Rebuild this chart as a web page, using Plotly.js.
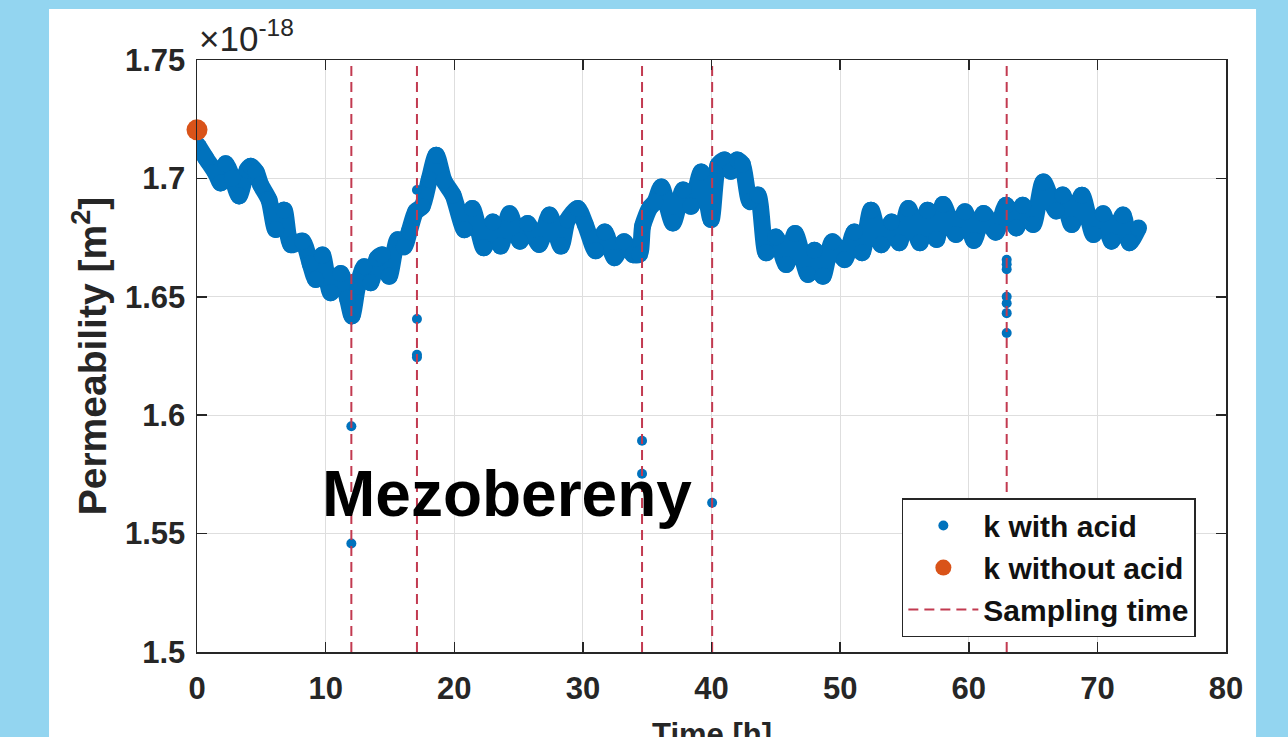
<!DOCTYPE html>
<html>
<head>
<meta charset="utf-8">
<script src="https://cdn.plot.ly/plotly-3.0.1.min.js"></script>
<style>
  html, body { margin: 0; padding: 0; background: #93d5f0; }
  #chart { width: 1288px; height: 737px; }
</style>
</head>
<body>
<div id="chart"></div>
<script>
// ---- Data (permeability in units of 1e-18 m^2, time in hours) ----
const timeH = [0.05, 0.67, 1.45, 1.84, 2.23, 2.75, 3.27, 3.9, 4.18, 4.6, 4.95, 5.6, 6.12, 6.77, 7.3, 8.2, 8.8,
  9.23, 9.75, 10.4, 11.18, 11.7, 12.05, 12.48, 13.0, 13.5, 14.0, 14.4, 14.94, 15.6, 16.1, 16.5, 17.0, 17.5,
  18.05, 18.6, 19.2, 19.9, 20.8, 21.4, 22.3, 23.0, 23.6, 24.3, 25.1, 25.7, 26.6, 27.4, 28.3, 28.8, 29.6,
  30.2, 31.0, 31.7, 32.45, 33.2, 33.9, 34.4, 34.65, 35.2, 35.6, 36.1, 37.0, 37.8, 38.4, 39.2, 39.97,
  40.5, 41.0, 41.5, 42.0, 42.4, 43.0, 43.6, 44.25, 45.0, 45.8, 46.5, 47.5, 48.0, 48.66, 49.4, 50.35,
  51.1, 51.7, 52.4, 53.2, 54.0, 54.6, 55.3, 56.2, 56.8, 57.5, 58.0, 59.0, 59.7, 60.4, 61.15, 62.1, 62.9,
  63.7, 64.2, 65.0, 65.8, 66.8, 67.3, 68.0, 68.8, 69.7, 70.45, 71.1, 72.0, 72.5, 73.2];
const kWithAcid = [1.7141, 1.7087, 1.7023, 1.6981, 1.7062, 1.7001, 1.6926, 1.7036, 1.7051, 1.7027, 1.6973, 1.6909, 1.6784, 1.6866, 1.6720, 1.6735, 1.6640,
  1.6573, 1.6676, 1.6517, 1.6598, 1.6494, 1.6420, 1.6543, 1.6627, 1.6559, 1.6662, 1.6677, 1.6587, 1.6741, 1.6711, 1.6776, 1.6860, 1.6881,
  1.6994, 1.7098, 1.6990, 1.6930, 1.6783, 1.6873, 1.6707, 1.6816, 1.6714, 1.6851, 1.6735, 1.6810, 1.6721, 1.6845, 1.6714, 1.6824, 1.6873,
  1.6804, 1.6694, 1.6774, 1.6665, 1.6732, 1.6678, 1.6680, 1.6800, 1.6876, 1.6900, 1.6964, 1.6812, 1.6951, 1.6882, 1.7027, 1.6826,
  1.7055, 1.7078, 1.7030, 1.7078, 1.7060, 1.6902, 1.6930, 1.6686, 1.6753, 1.6636, 1.6767, 1.6594, 1.6697, 1.6587, 1.6732, 1.6657,
  1.6774, 1.6686, 1.6866, 1.6720, 1.6816, 1.6728, 1.6873, 1.6728, 1.6866, 1.6742, 1.6890, 1.6763, 1.6859, 1.6738, 1.6852, 1.6773, 1.6887,
  1.6791, 1.6887, 1.6805, 1.6985, 1.6862, 1.6930, 1.6805, 1.6929, 1.6763, 1.6851, 1.6735, 1.6845, 1.6728, 1.6791];

// isolated readings taken at the sampling moments
const sampleReadTimeH = [12.0, 12.0, 12.0, 17.1, 17.1, 17.1, 17.1, 34.6, 34.6, 40.05, 40.05, 40.05,
  62.95, 62.95, 62.95, 62.95, 62.95, 62.95, 62.95];
const sampleReadK = [1.6403, 1.5953, 1.5458, 1.6951, 1.6406, 1.6255, 1.6245, 1.5892, 1.5753, 1.6850, 1.6820, 1.5630,
  1.6656, 1.6637, 1.6616, 1.6500, 1.6473, 1.6431, 1.6347];

const noAcidTimeH = [0];
const kWithoutAcid = [1.7205];

const samplingTimesH = [12.0, 17.1, 34.6, 40.05, 62.95];

const xTickVals = [0, 10, 20, 30, 40, 50, 60, 70, 80];
const yTickVals = [1.5, 1.55, 1.6, 1.65, 1.7, 1.75];
const yTickText = ['1.5', '1.55', '1.6', '1.65', '1.7', '1.75'];

const FONT = 'Liberation Sans, Arial, Helvetica, sans-serif';
const AX = '#262626';
const BLUE = '#0072BD';
const ORANGE = '#D95319';
const RED = '#c23a50';

const yMin = yTickVals[0], yMax = yTickVals[yTickVals.length - 1];
const sampX = [], sampY = [];
samplingTimesH.forEach(t => { sampX.push(t, t, null); sampY.push(yMin, yMax, null); });

const traces = [
  { x: timeH, y: kWithAcid, type: 'scatter', mode: 'lines+markers',
    line: { color: BLUE, width: 17, shape: 'spline', smoothing: 0.7 },
    marker: { color: BLUE, size: 17 }, showlegend: false, legendgroup: 'acid', hoverinfo: 'x+y' },
  { x: sampleReadTimeH, y: sampleReadK, type: 'scatter', mode: 'markers', name: 'k with acid',
    legendgroup: 'acid', marker: { color: BLUE, size: 10 } },
  { x: noAcidTimeH, y: kWithoutAcid, type: 'scatter', mode: 'markers', name: 'k without acid',
    marker: { color: ORANGE, size: 21 }, cliponaxis: false },
  { x: sampX, y: sampY, type: 'scatter', mode: 'lines', name: 'Sampling time',
    line: { color: RED, width: 2, dash: '10px,6px' } }
];

const layout = {
  width: 1288, height: 737,
  margin: { l: 197, r: 62, t: 60, b: 85, pad: 0 },
  paper_bgcolor: '#93d5f0',
  plot_bgcolor: '#ffffff',
  font: { family: FONT, color: AX, size: 30 },
  showlegend: true,
  legend: {
    x: 0.685, y: 0.26, xanchor: 'left', yanchor: 'top',
    bgcolor: '#ffffff', bordercolor: AX, borderwidth: 1.5,
    font: { family: FONT, size: 30, color: '#111', weight: 'bold' },
    itemwidth: 70, tracegroupgap: 0
  },
  xaxis: {
    range: [0, 80], tickvals: xTickVals, ticktext: xTickVals.map(String),
    showgrid: true, gridcolor: '#dedede', gridwidth: 1,
    showline: true, linecolor: AX, linewidth: 1.5, mirror: 'ticks',
    ticks: 'inside', ticklen: 10, tickwidth: 1.5, tickcolor: AX,
    tickfont: { family: FONT, size: 31, color: AX, weight: 'bold' },
    ticklabelstandoff: 8,
    zeroline: false, automargin: false
  },
  yaxis: {
    range: [yMin, yMax], tickvals: yTickVals, ticktext: yTickText,
    showgrid: true, gridcolor: '#dedede', gridwidth: 1,
    showline: true, linecolor: AX, linewidth: 1.5, mirror: 'ticks',
    ticks: 'inside', ticklen: 10, tickwidth: 1.5, tickcolor: AX,
    tickfont: { family: FONT, size: 31, color: AX, weight: 'bold' },
    ticklabelstandoff: 4,
    zeroline: false, automargin: false,
    title: { text: 'Permeability [m<sup>2</sup>]', font: { family: FONT, size: 39, color: AX, weight: 'bold' }, standoff: 6 }
  },
  shapes: [
    { type: 'rect', xref: 'paper', yref: 'paper', x0: -0.1438, x1: 1.0292, y0: -0.2, y1: 1.0861,
      fillcolor: '#ffffff', line: { width: 0 }, layer: 'below' }
  ],
  annotations: [
    { xref: 'paper', yref: 'paper', x: 0, y: 1, xanchor: 'left', yanchor: 'bottom', showarrow: false,
      text: '×10<sup>-18</sup>', font: { family: FONT, size: 35, color: AX } },
    { xref: 'x', yref: 'y', x: 24.1, y: 1.5667, xanchor: 'center', yanchor: 'middle', showarrow: false,
      text: '<b>Mezobereny</b>', font: { family: FONT, size: 64, color: '#000' } },
    // x-axis title, partly below the picture's bottom edge as in the reference
    { xref: 'paper', yref: 'paper', x: 0.5, y: 0, xanchor: 'center', yanchor: 'top', yshift: -63,
      showarrow: false, text: '<b>Time [h]</b>', font: { family: FONT, size: 31, color: AX } }
  ]
};

Plotly.newPlot('chart', traces, layout, { displayModeBar: false, staticPlot: true });
</script>
</body>
</html>
